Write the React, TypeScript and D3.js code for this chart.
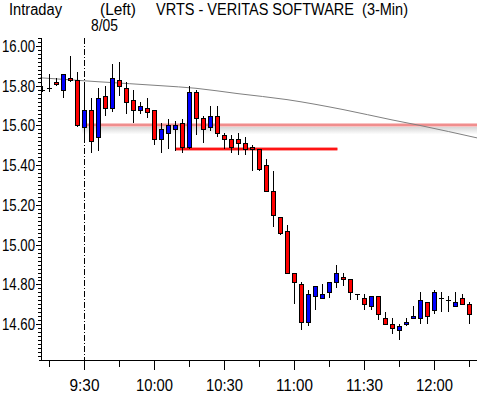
import React, { useEffect, useRef } from 'react'
import * as d3 from 'd3'

// 3-min bars, index 0 = last bars of prior session, index 6 = 9:30 on 8/05
const opens = [
  15.78, 15.79, 15.82, 15.78, 15.84, 15.83, 15.59, 15.68, 15.54, 15.75,
  15.69, 15.83, 15.79, 15.73, 15.68, 15.69, 15.68, 15.53, 15.56, 15.58,
  15.61, 15.49, 15.77, 15.64, 15.59, 15.65, 15.55, 15.53, 15.53, 15.51,
  15.49, 15.48, 15.4, 15.27, 15.14, 15.07, 14.86, 14.8, 14.61, 14.74,
  14.73, 14.76, 14.81, 14.84, 14.83, 14.75, 14.73, 14.69, 14.74, 14.63,
  14.6, 14.57, 14.6, 14.63, 14.63, 14.71, 14.67, 14.73, 14.72, 14.69,
  14.73, 14.7,
]
const highs = [
  15.8, 15.86, 15.84, 15.86, 15.95, 15.87, 15.8, 15.74, 15.79, 15.8,
  15.91, 15.92, 15.82, 15.78, 15.72, 15.74, 15.68, 15.61, 15.63, 15.62,
  15.63, 15.8, 15.78, 15.65, 15.7, 15.7, 15.56, 15.55, 15.56, 15.54,
  15.5, 15.48, 15.43, 15.37, 15.14, 15.1, 14.86, 14.81, 14.77, 14.79,
  14.8, 14.81, 14.9, 14.86, 14.83, 14.75, 14.75, 14.74, 14.74, 14.66,
  14.63, 14.6, 14.63, 14.69, 14.76, 14.71, 14.77, 14.76, 14.74, 14.76,
  14.75, 14.71,
]
const lows = [
  15.77, 15.77, 15.8, 15.74, 15.82, 15.59, 15.51, 15.46, 15.47, 15.65,
  15.67, 15.75, 15.66, 15.61, 15.66, 15.64, 15.5, 15.46, 15.48, 15.47,
  15.46, 15.48, 15.55, 15.51, 15.57, 15.54, 15.48, 15.46, 15.45, 15.45,
  15.37, 15.37, 15.27, 15.09, 15.05, 14.86, 14.7, 14.57, 14.59, 14.67,
  14.73, 14.73, 14.78, 14.79, 14.72, 14.72, 14.67, 14.67, 14.62, 14.6,
  14.55, 14.52, 14.59, 14.63, 14.6, 14.6, 14.65, 14.66, 14.66, 14.69,
  14.7, 14.6,
]
const closes = [
  15.78, 15.79, 15.81, 15.86, 15.83, 15.6, 15.68, 15.52, 15.74, 15.69,
  15.84, 15.8, 15.72, 15.68, 15.7, 15.67, 15.53, 15.58, 15.6, 15.6,
  15.49, 15.77, 15.64, 15.58, 15.65, 15.56, 15.53, 15.49, 15.51, 15.48,
  15.48, 15.38, 15.27, 15.15, 15.06, 14.86, 14.81, 14.61, 14.75, 14.79,
  14.75, 14.81, 14.86, 14.83, 14.76, 14.75, 14.7, 14.74, 14.65, 14.6,
  14.58, 14.59, 14.61, 14.64, 14.72, 14.64, 14.76, 14.73, 14.72, 14.71,
  14.7, 14.65,
]

// moving average line (bar index, value)
const maBars = [-0.3, 8, 17, 22, 28, 35, 43, 50, 54, 62.2]
const maValues = [15.84, 15.82, 15.8, 15.787, 15.76, 15.73, 15.68, 15.628, 15.6, 15.537]

const timeTickBars = [6, 16, 26, 36, 46, 56]
const timeTickLabels = ['9:30', '10:00', '10:30', '11:00', '11:30', '12:00']
const minorTimeBars = [1, 11, 21, 31, 41, 51, 61]
const priceTicks = [14.6, 14.8, 15.0, 15.2, 15.4, 15.6, 15.8, 16.0]

const pinkLevel = 15.6
const redLevel = 15.48
const redFrom = 19
const redTo = 42.2
const dateBar = 6

const FONT = "'Liberation Sans', Arial, sans-serif"

function App() {
  const canvas = useRef<SVGSVGElement>(null)

  useEffect(() => {
    const svg = d3.select(canvas.current)
    svg.selectAll('*').remove()

    const x = d3.scaleLinear().domain([0, 61]).range([42, 469])
    const y = d3.scaleLinear().domain([14.42, 16.04]).range([360, 38])
    const cx = (i) => Math.round(x(i)) + 0.5

    const defs = svg.append('defs')
    const grad = defs
      .append('linearGradient')
      .attr('id', 'shade')
      .attr('x1', 0)
      .attr('y1', 0)
      .attr('x2', 0)
      .attr('y2', 1)
    grad.append('stop').attr('offset', '0%').attr('stop-color', '#d4d4d4')
    grad.append('stop').attr('offset', '100%').attr('stop-color', '#ffffff')

    // titles
    const txt = (s, tx, ty, len, anchor = 'start') =>
      svg
        .append('text')
        .attr('x', tx)
        .attr('y', ty)
        .attr('text-anchor', anchor)
        .attr('font-family', FONT)
        .attr('font-size', 16)
        .attr('fill', '#000')
        .attr('textLength', len)
        .attr('lengthAdjust', 'spacingAndGlyphs')
        .style('white-space', 'pre')
        .text(s)

    txt('Intraday', 9, 15, 53)
    txt('(Left)', 100, 15, 36)
    txt('VRTS - VERITAS SOFTWARE  (3-Min)', 156, 15, 252)
    txt('8/05', 91, 31, 27)

    // pink level with shadow
    const pinkY = Math.round(y(pinkLevel))
    svg
      .append('rect')
      .attr('x', x(5.7))
      .attr('y', pinkY + 1.5)
      .attr('width', 477 - x(5.7))
      .attr('height', 8)
      .attr('fill', 'url(#shade)')
    svg
      .append('line')
      .attr('x1', x(5.7))
      .attr('x2', 477)
      .attr('y1', pinkY)
      .attr('y2', pinkY)
      .attr('stroke', '#f8c4c4')
      .attr('stroke-width', 4)
    svg
      .append('line')
      .attr('x1', x(5.7))
      .attr('x2', 477)
      .attr('y1', pinkY)
      .attr('y2', pinkY)
      .attr('stroke', '#f08e8e')
      .attr('stroke-width', 2)

    // moving average
    const ma = d3
      .line()
      .x((d) => x(d[0]))
      .y((d) => y(d[1]))
      .curve(d3.curveMonotoneX)
    svg
      .append('path')
      .attr('d', ma(maBars.map((b, i) => [b, maValues[i]])))
      .attr('fill', 'none')
      .attr('stroke', '#808080')
      .attr('stroke-width', 1)

    // red level
    const redY = Math.round(y(redLevel))
    svg
      .append('line')
      .attr('x1', x(redFrom))
      .attr('x2', x(redTo))
      .attr('y1', redY)
      .attr('y2', redY)
      .attr('stroke', '#ff9c9c')
      .attr('stroke-width', 4)
    svg
      .append('line')
      .attr('x1', x(redFrom))
      .attr('x2', x(redTo))
      .attr('y1', redY)
      .attr('y2', redY)
      .attr('stroke', '#ff1414')
      .attr('stroke-width', 2)

    // date separator
    svg
      .append('line')
      .attr('x1', cx(dateBar))
      .attr('x2', cx(dateBar))
      .attr('y1', 38)
      .attr('y2', 360)
      .attr('stroke', '#000')
      .attr('stroke-dasharray', '6,2,1,2')

    // candles
    const bars = svg.append('g').attr('shape-rendering', 'crispEdges')
    opens.forEach((o, i) => {
      const c = closes[i]
      const px = cx(i)
      bars
        .append('line')
        .attr('x1', px)
        .attr('x2', px)
        .attr('y1', y(highs[i]))
        .attr('y2', y(lows[i]))
        .attr('stroke', '#000')
      if (o === c) {
        bars
          .append('line')
          .attr('x1', px - 2.5)
          .attr('x2', px + 2.5)
          .attr('y1', Math.round(y(o)) + 0.5)
          .attr('y2', Math.round(y(o)) + 0.5)
          .attr('stroke', '#000')
      } else {
        const top = Math.round(y(Math.max(o, c)))
        const bot = Math.round(y(Math.min(o, c)))
        bars
          .append('rect')
          .attr('x', px - 2)
          .attr('y', top + 0.5)
          .attr('width', 4)
          .attr('height', Math.max(bot - top, 1))
          .attr('fill', c > o ? '#0000ff' : '#ff0000')
          .attr('stroke', '#000')
      }
    })

    // axes
    const ax = svg.append('g').attr('shape-rendering', 'crispEdges')
    ax.append('line').attr('x1', 41.5).attr('x2', 41.5).attr('y1', 38).attr('y2', 361).attr('stroke', '#000')
    ax.append('line').attr('x1', 39).attr('x2', 477).attr('y1', 360.5).attr('y2', 360.5).attr('stroke', '#000')

    const minorPrices = d3.range(722, 803).map((v) => v / 50)
    minorPrices.forEach((v) => {
      const py = Math.round(y(v)) + 0.5
      ax.append('line').attr('x1', 38).attr('x2', 41).attr('y1', py).attr('y2', py).attr('stroke', '#000')
    })
    priceTicks.forEach((v) => {
      const py = Math.round(y(v)) + 0.5
      ax.append('line').attr('x1', 36).attr('x2', 41).attr('y1', py).attr('y2', py).attr('stroke', '#000')
      txt(d3.format('.2f')(v), 35, py + 5.5, 33, 'end')
    })

    minorTimeBars.forEach((b) => {
      ax.append('line').attr('x1', cx(b)).attr('x2', cx(b)).attr('y1', 361).attr('y2', 367).attr('stroke', '#000')
    })
    timeTickBars.forEach((b, i) => {
      ax.append('line').attr('x1', cx(b)).attr('x2', cx(b)).attr('y1', 361).attr('y2', 370).attr('stroke', '#000')
      const label = timeTickLabels[i]
      txt(label, cx(b), 391, label.length === 4 ? 30 : 37, 'middle')
    })
  }, [])

  return (
    <div style={{ position: 'fixed', left: 0, top: 0 }}>
      <svg ref={canvas} width={477} height={397} style={{ display: 'block', background: '#fff' }} />
    </div>
  )
}

export default App
